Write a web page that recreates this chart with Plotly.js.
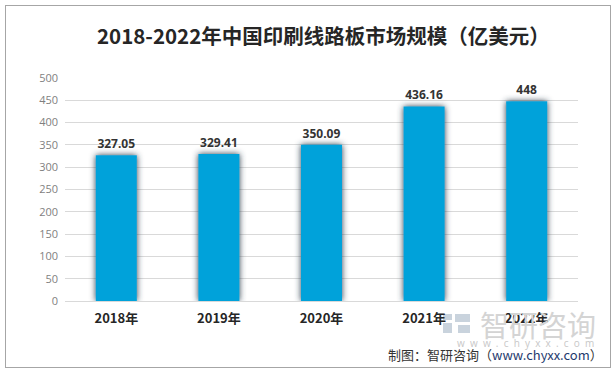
<!DOCTYPE html>
<html><head><meta charset="utf-8">
<script src="https://cdn.plot.ly/plotly-3.0.1.min.js"></script>
<style>
html,body{margin:0;padding:0;background:#fff;}
#wrap{position:relative;width:616px;height:373px;}
#chart{width:616px;height:373px;}
#frame{position:absolute;left:5px;top:5px;width:604px;height:361px;border:1px solid #a6a6a6;pointer-events:none;}
</style></head>
<body>
<div id="wrap"><div id="chart"></div><div id="frame"></div></div>
<script>
const categories = ['2018年','2019年','2020年','2021年','2022年'];
const values = [327.05, 329.41, 350.09, 436.16, 448];
const valueLabels = ['327.05','329.41','350.09','436.16','448'];
const yTicks = [0,50,100,150,200,250,300,350,400,450,500];

const trace = {
  type:'bar', x:categories, y:values,
  text:valueLabels, textposition:'outside', cliponaxis:false,
  textfont:{family:'Noto Sans, Open Sans, sans-serif', size:12, color:'#333333', weight:'bold'},
  marker:{color:'#00A2DA'}, width:0.4, hoverinfo:'none'
};
// plot area: x 65..578, y 78..301 (223px tall)
function py(pix){ return -(pix-301)/223; }
function px(pix){ return (pix-65)/513; }
const layout = {
  width:616, height:373,
  margin:{l:65, r:38, t:78, b:72},
  paper_bgcolor:'#fff', plot_bgcolor:'#fff',
  showlegend:false,
  title:{text:'<b>2018-2022年中国印刷线路板市场规模（亿美元）</b>', x:0.525, xanchor:'center', y:0.9, yanchor:'middle',
    font:{family:'Noto Sans CJK SC, Noto Sans, sans-serif', size:20.5, color:'#262626'}},
  xaxis:{type:'category', showgrid:false, zeroline:false, showline:false, ticks:'', ticklabelstandoff:8,
    tickfont:{family:'Noto Sans CJK SC, sans-serif', size:13, color:'#262626', weight:'bold'}},
  yaxis:{range:[0,500], tickvals:yTicks, showgrid:true, gridcolor:'#d9d9d9', gridwidth:1,
    zeroline:true, zerolinecolor:'#d9d9d9', showline:false, ticks:'', ticklabelstandoff:6,
    tickfont:{family:'Open Sans, sans-serif', size:11, color:'#7f7f7f'}},
  shapes:[
    {type:'rect', xref:'paper', yref:'paper', x0:px(443), x1:px(452), y0:py(314), y1:py(320), fillcolor:'#c9d3dd', line:{width:0}, layer:'below'},
    {type:'rect', xref:'paper', yref:'paper', x0:px(443), x1:px(452), y0:py(323), y1:py(333), fillcolor:'#c9d3dd', line:{width:0}, layer:'below'},
    {type:'rect', xref:'paper', yref:'paper', x0:px(455), x1:px(470), y0:py(314), y1:py(322), fillcolor:'#c9d3dd', line:{width:0}, layer:'below'},
    {type:'rect', xref:'paper', yref:'paper', x0:px(458), x1:px(470), y0:py(325), y1:py(333), fillcolor:'#c9d3dd', line:{width:0}, layer:'below'}
  ],
  annotations:[
    {xref:'paper', yref:'paper', x:px(598), y:py(324), xanchor:'right', yanchor:'middle', showarrow:false,
     text:'智研咨询', font:{family:'Noto Sans CJK SC, sans-serif', size:29, color:'#d4d4d4'}},
    {xref:'paper', yref:'paper', x:px(596), y:py(343), xanchor:'right', yanchor:'middle', showarrow:false,
     text:'w  w  w  .  c  h  y  x  x  .  c  o  m', font:{family:'Open Sans, sans-serif', size:10, color:'#c8c8c8'}},
    {xref:'paper', yref:'paper', x:px(605), y:py(354), xanchor:'right', yanchor:'middle', showarrow:false,
     text:'制图：智研咨询（<span style="color:#1f3a6e">www.chyxx.com</span>）',
     font:{family:'Noto Sans CJK SC, sans-serif', size:13, color:'#333333'}}
  ]
};
Plotly.newPlot('chart',[trace],layout,{displayModeBar:false, staticPlot:true}).then(function(){
  const svg = document.querySelector('#chart .main-svg');
  const ns = 'http://www.w3.org/2000/svg';
  let defs = svg.querySelector('defs');
  if(!defs){defs=document.createElementNS(ns,'defs'); svg.insertBefore(defs, svg.firstChild);}
  const f = document.createElementNS(ns,'filter');
  f.setAttribute('id','barShadow'); f.setAttribute('x','-50%'); f.setAttribute('y','-20%');
  f.setAttribute('width','200%'); f.setAttribute('height','140%');
  const ds = document.createElementNS(ns,'feDropShadow');
  ds.setAttribute('dx','0'); ds.setAttribute('dy','0'); ds.setAttribute('stdDeviation','3');
  ds.setAttribute('flood-color','#2a3a4a'); ds.setAttribute('flood-opacity','1');
  f.appendChild(ds); defs.appendChild(f);
  document.querySelectorAll('#chart .bars .point path').forEach(function(p){p.setAttribute('filter','url(#barShadow)');});
});
</script>
</body></html>
